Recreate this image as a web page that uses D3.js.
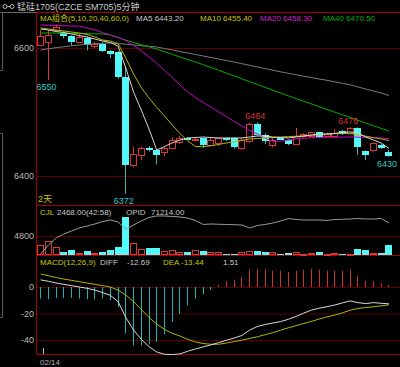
<!DOCTYPE html>
<html>
<head>
<meta charset="utf-8">
<script src="https://cdn.jsdelivr.net/npm/d3@7/dist/d3.min.js"></script>
<style>
  html, body { margin: 0; padding: 0; background: #000; }
  svg { display: block; font-family: "Liberation Sans", "Noto Sans CJK SC", sans-serif; font-size: 8px; }
</style>
</head>
<body>
<div id="chart"></div>
<script>

// size of the whole picture
var w = 400;
var h = 367;

// candles (5 minute bars)
var candleOpen  = [6605,6610,6628,6624,6618,6610,6615,6603,6607,6596,6593,6555,6417,6433,6443,6441,6437,6444,6453,6460,6457,6459,6448,6451,6459,6459,6443,6454,6482,6464,6449,6459,6456,6450,6462,6463,6468,6463,6463,6470,6467,6475,6439,6440,6449,6438];
var candleClose = [6618,6621,6633,6619,6610,6617,6605,6607,6596,6590,6555,6417,6434,6444,6440,6433,6444,6456,6460,6458,6458,6448,6457,6459,6457,6446,6457,6482,6464,6454,6456,6458,6450,6463,6466,6468,6461,6466,6467,6466,6475,6446,6433,6451,6444,6431];
var candleHigh  = [6628,6628,6637,6626,6620,6622,6618,6610,6609,6597,6595,6571,6446,6446,6447,6442,6445,6460,6463,6461,6460,6460,6461,6461,6460,6461,6460,6483,6484,6466,6460,6460,6457,6475,6467,6469,6469,6468,6473,6472,6476,6476,6440,6452,6450,6441];
var candleLow   = [6603,6550,6625,6615,6604,6608,6596,6600,6594,6584,6552,6372,6414,6425,6438,6418,6431,6442,6450,6457,6455,6444,6446,6447,6455,6443,6441,6452,6462,6450,6445,6456,6448,6448,6460,6461,6459,6461,6461,6464,6465,6433,6425,6438,6442,6430];

// moving averages
var ma5  = [6629.7,6628.1,6625.8,6624.2,6621.9,6619.5,6617.2,6614.1,6610.9,6608.6,6603.1,6568.8,6531.3,6503.1,6473.4,6440.6,6446.1,6451.6,6456.3,6459.4,6460.2,6460.9,6460.2,6459.4,6459.4,6459.4,6459.4,6460.9,6462.5,6462.5,6460.9,6460.2,6459.4,6460.9,6462.5,6464.1,6465.6,6465.6,6466.4,6468.0,6468.8,6467.2,6460.9,6456.3,6451.6,6443.2];
var ma10 = [6631.3,6629.7,6628.1,6626.6,6625.0,6623.4,6621.1,6617.2,6612.5,6610.9,6607.0,6584.4,6559.4,6538.3,6521.9,6507.0,6493.8,6479.7,6466.4,6454.7,6446.1,6445.8,6447.3,6449.2,6451.6,6453.6,6455.6,6457.8,6458.6,6459.4,6460.2,6460.9,6461.6,6462.2,6462.8,6463.6,6464.5,6465.5,6466.3,6467.2,6466.4,6464.4,6462.2,6460.0,6457.8,6455.4];
var ma20 = [6635.9,6635.6,6635.2,6634.8,6634.4,6634.1,6631.3,6628.1,6624.2,6620.3,6616.4,6611.7,6603.9,6595.3,6585.9,6575.8,6565.6,6553.9,6542.2,6531.3,6522.7,6514.8,6507.8,6500.0,6493.0,6485.2,6478.1,6471.1,6465.6,6459.4,6453.9,6454.7,6456.3,6457.8,6458.9,6459.8,6460.2,6460.5,6460.6,6460.9,6460.9,6460.6,6460.2,6459.8,6459.5,6458.3];
var ma40 = [6623.4,6623.4,6623.4,6623.1,6623.0,6622.7,6622.5,6622.2,6621.9,6620.3,6616.4,6612.2,6608.6,6605.2,6601.9,6598.4,6594.2,6590.2,6585.9,6582.0,6578.1,6573.9,6569.5,6565.2,6560.6,6556.3,6551.7,6547.3,6543.0,6538.4,6534.1,6529.7,6525.3,6520.9,6516.7,6512.5,6508.3,6504.1,6499.8,6495.6,6491.4,6487.0,6482.8,6478.6,6474.4,6470.5];
var ma60 = [6596.9,6598.8,6600.5,6602.0,6603.4,6604.7,6605.8,6606.7,6607.5,6607.8,6607.0,6605.9,6604.7,6603.6,6602.7,6601.6,6599.2,6596.9,6594.5,6592.2,6589.8,6587.5,6585.2,6582.8,6580.5,6578.1,6575.5,6573.0,6570.3,6567.8,6565.3,6562.8,6560.5,6558.1,6555.9,6553.8,6551.6,6549.4,6547.2,6544.8,6542.5,6539.1,6535.9,6532.8,6529.7,6525.8];

// volume and open interest
var volume = [2500,3600,2000,830,1260,430,1010,430,830,1260,1950,9670,3100,1440,1690,1690,1010,1260,830,680,1260,1010,680,680,250,250,680,1090,1010,680,830,180,430,680,180,430,680,180,430,180,180,1520,1260,430,580,2468];
var openInterest = [66160,67630,68770,69420,69910,70400,70720,71050,71450,71700,71370,70230,70880,71540,72110,72350,72350,72270,72190,72020,71620,70970,71050,71000,70970,70930,70880,70400,70800,70970,71210,71540,71940,71780,71700,71700,71700,71620,71780,71810,71860,71940,71860,71860,71940,71214];

// MACD
var macdDiff = [5.4,4.3,3.0,2.0,1.0,0.0,-1.0,-2.3,-4.2,-6.3,-11,-23,-32.5,-39.5,-45,-49,-50.8,-51,-50.5,-48.5,-46.8,-45.2,-43.7,-42,-40.2,-38.5,-36.6,-32.5,-29.8,-28.3,-27.2,-26.1,-24.4,-22.2,-19.7,-17.4,-16,-14.8,-13.6,-12,-10.5,-11.8,-12.5,-11.8,-12.3,-12.69];
var macdDea  = [9.8,8.5,7.2,6.0,5.0,4.0,3.0,2.0,1.0,0.0,-2.3,-6,-11,-17,-23,-28,-32,-35,-37,-39.5,-41.5,-42.7,-43.2,-43.2,-42.3,-41.2,-40.1,-38.8,-37.5,-36,-34.5,-32.6,-30.8,-29.2,-27.5,-25.9,-24.2,-22.6,-21.2,-19.5,-17.5,-16.2,-15.5,-14.9,-14.2,-13.44];
var macdBar  = [-8.7,-9.2,-8.2,-8.2,-8.2,-8.7,-9.2,-9.2,-8.7,-10,-15.1,-35.1,-44.1,-44.1,-43.3,-41.5,-35.6,-26.2,-20.3,-13.8,-9,-5.6,-2.1,1.8,4.6,5.6,7.9,13.1,13.8,13.1,12.3,12.3,11.3,12.3,13.1,13.8,13.1,12.3,12.3,12.3,13.1,8.7,4.9,4.6,2.8,1.51];

// axis ticks
var priceTicks = [6400, 6600];
var volumeTicks = [4800];
var macdTicks = [0, -20, -40];
var dateLabels = ["02/14"];
var dateIndex = [0];

// high / low marks on the price panel
var markIndex = [1, 11, 28, 40, 45];
var markKind = ["low", "low", "high", "high", "low"];

// colours
var upColor = "#d83838";
var downColor = "#54f8f8";
var downWick = "#3ab0b0";
var borderColor = "#a00000";
var gridColor = "#5c0000";
var labelColor = "#b8b8b8";

var svg = d3.select("#chart").append("svg")
  .attr("width", w)
  .attr("height", h);

svg.append("rect").attr("width", w).attr("height", h).attr("fill", "#000");

// x scale shared by all panels
var x = d3.scaleBand()
  .domain(d3.range(candleOpen.length))
  .range([36.8, 392.8])
  .paddingInner(0.2)
  .paddingOuter(0.1);

function cx(i) { return Math.floor(x(i) + x.bandwidth() / 2) + 0.5; }

var yPrice = d3.scaleLinear().domain([6400, 6600]).range([176, 48]);
var yVol = d3.scaleLinear().domain([0, 4800]).range([255, 236]);
var yOI = d3.scaleLinear().domain([66000, 73000]).range([255, 212]);
var yMacd = d3.scaleLinear().domain([0, -40]).range([287, 340]);

// grid + tick labels
function styleAxis(g) {
  g.select(".domain").remove();
  g.selectAll("line").attr("stroke", gridColor);
  g.selectAll("text").attr("fill", labelColor).style("font-size", "9px")
    .style("font-family", "Liberation Sans, sans-serif");
}

var plain = function(d) { return String(d); };

svg.append("g")
  .attr("transform", "translate(37,0)")
  .call(d3.axisLeft(yPrice).tickValues(priceTicks).tickSize(-(w - 37)).tickPadding(3).tickFormat(plain))
  .call(styleAxis);

svg.append("g")
  .attr("transform", "translate(37,0)")
  .call(d3.axisLeft(yVol).tickValues(volumeTicks).tickSize(-(w - 37)).tickPadding(3).tickFormat(plain))
  .call(styleAxis);

svg.append("g")
  .attr("transform", "translate(37,0)")
  .call(d3.axisLeft(yMacd).tickValues(macdTicks).tickSize(-(w - 37)).tickPadding(3).tickFormat(plain))
  .call(styleAxis);

// panel frames
svg.append("line").attr("x1", 0).attr("x2", 37).attr("y1", 12.5).attr("y2", 12.5).attr("stroke", "#6a6a6a");
svg.append("line").attr("x1", 37).attr("x2", w).attr("y1", 12.5).attr("y2", 12.5).attr("stroke", borderColor);
svg.append("line").attr("x1", 36.5).attr("x2", 36.5).attr("y1", 12).attr("y2", 354.5).attr("stroke", borderColor);
svg.append("line").attr("x1", 37).attr("x2", w).attr("y1", 205.5).attr("y2", 205.5).attr("stroke", borderColor);
svg.append("line").attr("x1", 37).attr("x2", w).attr("y1", 255.5).attr("y2", 255.5).attr("stroke", borderColor);
svg.append("line").attr("x1", 37).attr("x2", w).attr("y1", 354.5).attr("y2", 354.5).attr("stroke", borderColor);

// left side bracket
svg.append("path")
  .attr("d", "M0,12.5H2.5V70.5H0 M0,133.5H2.5V317.5H0")
  .attr("fill", "none")
  .attr("stroke", "#5a5a5a");

// title
svg.append("circle").attr("cx", 5).attr("cy", 6.5).attr("r", 2).attr("fill", "none").attr("stroke", "#bbb");
svg.append("circle").attr("cx", 12).attr("cy", 6.5).attr("r", 2).attr("fill", "none").attr("stroke", "#bbb");
svg.append("line").attr("x1", 7).attr("x2", 10).attr("y1", 6.5).attr("y2", 6.5).attr("stroke", "#bbb");
svg.append("text").attr("x", 17).attr("y", 10).attr("fill", "#c8c8c8").style("font-size", "9px")
  .text("锰硅1705(CZCE SM705)5分钟");

// MA header
var maHeader = [
  { t: "MA组合(5,10,20,40,60,0)", x: 40, c: "#c8c800" },
  { t: "MA5 6443.20", x: 136, c: "#c8c8c8" },
  { t: "MA10 6455.40", x: 200, c: "#c8c800" },
  { t: "MA20 6458.30", x: 260, c: "#d020d0" },
  { t: "MA40 6470.50", x: 323, c: "#00b000" }
];
svg.selectAll(".maHead").data(maHeader).enter().append("text")
  .attr("x", function(d) { return d.x; }).attr("y", 20.5)
  .attr("fill", function(d) { return d.c; })
  .text(function(d) { return d.t; });

// moving average lines
var maSeries = [
  { v: ma60, c: "#7a7a7a" },
  { v: ma40, c: "#00b000" },
  { v: ma20, c: "#c800c8" },
  { v: ma10, c: "#b4b400" },
  { v: ma5, c: "#d8d8d8" }
];
var maLine = d3.line()
  .x(function(d, i) { return x(i) + x.bandwidth() / 2; })
  .y(function(d) { return yPrice(d); });

// candles
var candles = svg.append("g");
candleOpen.forEach(function(o, i) {
  var c = candleClose[i];
  var up = c >= o;
  var top = yPrice(Math.max(o, c));
  var bot = yPrice(Math.min(o, c));
  var xx = cx(i);
  if (up) {
    candles.append("line").attr("x1", xx).attr("x2", xx)
      .attr("y1", yPrice(candleHigh[i])).attr("y2", Math.round(top))
      .attr("stroke", upColor);
    candles.append("line").attr("x1", xx).attr("x2", xx)
      .attr("y1", Math.round(bot) + 1).attr("y2", yPrice(candleLow[i]))
      .attr("stroke", upColor);
    candles.append("rect")
      .attr("x", xx - 3).attr("y", Math.round(top) + 0.5)
      .attr("width", 6).attr("height", Math.max(1, Math.round(bot) - Math.round(top)))
      .attr("fill", "#000").attr("stroke", upColor);
  } else {
    candles.append("line").attr("x1", xx).attr("x2", xx)
      .attr("y1", yPrice(candleHigh[i])).attr("y2", yPrice(candleLow[i]))
      .attr("stroke", downWick);
    candles.append("rect")
      .attr("x", xx - 3.5).attr("y", Math.round(top))
      .attr("width", 7).attr("height", Math.max(2, Math.round(bot) - Math.round(top)))
      .attr("fill", downColor);
  }
});

svg.selectAll(".ma").data(maSeries).enter().append("path")
  .attr("d", function(d) { return maLine(d.v); })
  .attr("fill", "none")
  .attr("stroke", function(d) { return d.c; })
  .attr("stroke-width", 1);

// high / low labels
svg.selectAll(".mark").data(markIndex).enter().append("text")
  .attr("x", function(d) { return x(d) + x.bandwidth() / 2 - 2; })
  .attr("y", function(d, k) {
    return markKind[k] === "high" ? yPrice(candleHigh[d]) - 3 : yPrice(candleLow[d]) + 10;
  })
  .attr("text-anchor", "middle")
  .style("font-size", "9px")
  .attr("fill", function(d, k) { return markKind[k] === "high" ? "#d03434" : "#28c8c8"; })
  .text(function(d, k) { return markKind[k] === "high" ? candleHigh[d] : candleLow[d]; });

svg.append("text").attr("x", 38).attr("y", 202).attr("fill", "#c8c800").style("font-size", "9px").text("2天");

// volume panel
svg.append("text").attr("x", 40).attr("y", 214.5).attr("fill", "#c8c800").text("CJL");
svg.append("text").attr("x", 57).attr("y", 214.5).attr("fill", "#c8c8c8").text("2468.00(42:58)");
svg.append("text").attr("x", 126).attr("y", 214.5).attr("fill", "#c8c8c8").text("OPID");
svg.append("text").attr("x", 151).attr("y", 214.5).attr("fill", "#c8c8c8").text("71214.00");

volume.forEach(function(v, i) {
  var up = candleClose[i] >= candleOpen[i];
  var xx = cx(i);
  var top = Math.round(yVol(v));
  if (up) {
    svg.append("rect").attr("x", xx - 3).attr("y", top + 0.5)
      .attr("width", 6).attr("height", Math.max(1, 255 - top - 1))
      .attr("fill", "#000").attr("stroke", upColor);
  } else {
    svg.append("rect").attr("x", xx - 3.5).attr("y", top)
      .attr("width", 7).attr("height", 255 - top)
      .attr("fill", downColor);
  }
});

svg.append("path")
  .datum(openInterest)
  .attr("d", d3.line()
    .x(function(d, i) { return x(i) + x.bandwidth() / 2; })
    .y(function(d) { return yOI(d); }))
  .attr("fill", "none")
  .attr("stroke", "#9a9a9a");

// MACD panel
var macdHeader = [
  { t: "MACD(12,26,9)", x: 40, c: "#c8c800" },
  { t: "DIFF", x: 100, c: "#c8c8c8" },
  { t: "-12.69", x: 127, c: "#c8c8c8" },
  { t: "DEA", x: 163, c: "#c8c800" },
  { t: "-13.44", x: 181, c: "#c8c800" },
  { t: "1.51", x: 223, c: "#d0d0d0" }
];
svg.selectAll(".macdHead").data(macdHeader).enter().append("text")
  .attr("x", function(d) { return d.x; }).attr("y", 265)
  .attr("fill", function(d) { return d.c; })
  .text(function(d) { return d.t; });

svg.selectAll(".macdBar").data(macdBar).enter().append("line")
  .attr("x1", function(d, i) { return cx(i); })
  .attr("x2", function(d, i) { return cx(i); })
  .attr("y1", yMacd(0))
  .attr("y2", function(d) { return yMacd(d); })
  .attr("stroke", function(d) { return d >= 0 ? "#c83232" : "#22b4b4"; });

var macdLine = d3.line()
  .x(function(d, i) { return x(i) + x.bandwidth() / 2; })
  .y(function(d) { return yMacd(d); });

svg.append("path").datum(macdDea).attr("d", macdLine)
  .attr("fill", "none").attr("stroke", "#b4b400");
svg.append("path").datum(macdDiff).attr("d", macdLine)
  .attr("fill", "none").attr("stroke", "#d8d8d8");

// date axis
svg.selectAll(".dateTick").data(dateIndex).enter().append("line")
  .attr("x1", function(d) { return cx(d) + 3; })
  .attr("x2", function(d) { return cx(d) + 3; })
  .attr("y1", 348).attr("y2", 354)
  .attr("stroke", labelColor);
svg.selectAll(".dateLabel").data(dateIndex).enter().append("text")
  .attr("x", 40).attr("y", 365)
  .attr("fill", labelColor)
  .text(function(d, k) { return dateLabels[k]; });

</script>
</body>
</html>
